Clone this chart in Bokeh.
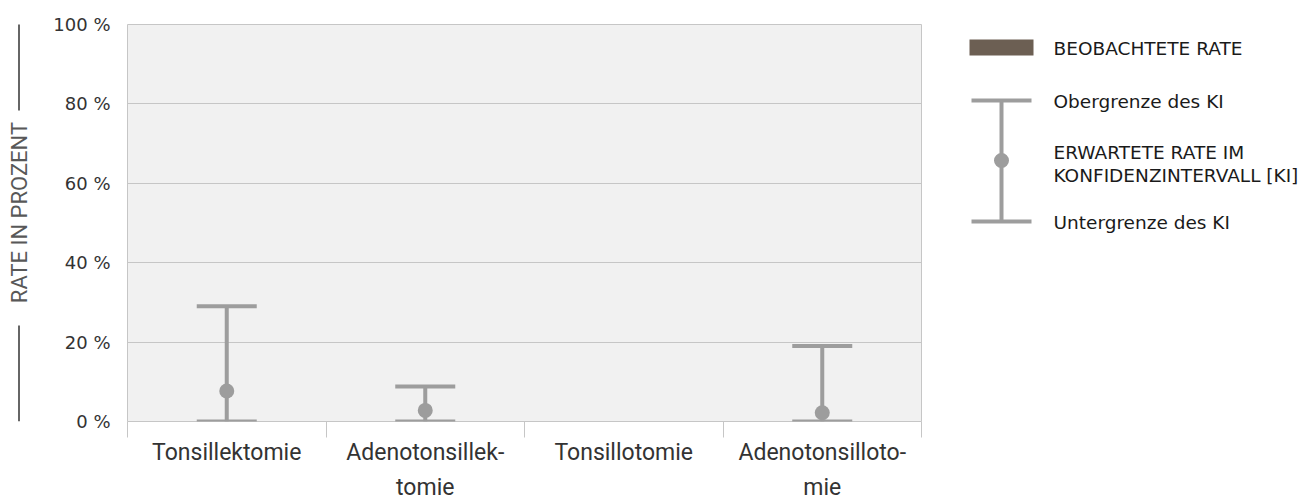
import math
from bokeh.plotting import figure
from bokeh.layouts import row
from bokeh.models import (ColumnDataSource, Range1d, FixedTicker, PrintfTickFormatter,
                          Whisker, TeeHead, Arrow, Label)
from bokeh.core.properties import value
from bokeh.embed import file_html
from bokeh.resources import INLINE

# ---------------- data ----------------
categories = ["Tonsillektomie", "Adenotonsillektomie", "Tonsillotomie", "Adenotonsillotomie"]
tick_labels = ["Tonsillektomie", "Adenotonsillek-\ntomie", "Tonsillotomie", "Adenotonsilloto-\nmie"]
observed_rate = [0.0, 0.0, 0.0, 0.0]
expected_rate = [7.7, 2.8, None, 2.2]
ci_lower = [0.0, 0.0, None, 0.0]
ci_upper = [29.0, 8.8, None, 19.0]
y_ticks = [0, 20, 40, 60, 80, 100]

legend_labels = ["BEOBACHTETE RATE", "Obergrenze des KI",
                 "ERWARTETE RATE IM", "KONFIDENZINTERVALL [KI]", "Untergrenze des KI"]
axis_title = "RATE IN PROZENT"

# ---------------- styles / layout ----------------
BG = "#f1f1f1"
GRID = "#c6c6c6"
ERR = "#9d9d9d"
BROWN = "#6c5f53"
TXT = "#333333"
H = 503
FT, FB = 24, 421          # frame top / bottom on the page (pixels)
STRIP_W, MAIN_W = 48, 892
LEG_W = 1313 - STRIP_W - MAIN_W

xs = [i + 0.5 for i in range(len(categories))]
rows = [i for i in range(len(categories)) if expected_rate[i] is not None]
src = ColumnDataSource(dict(
    x=[xs[i] for i in rows],
    exp=[expected_rate[i] for i in rows],
    lo=[ci_lower[i] for i in rows],
    up=[ci_upper[i] for i in rows],
))
bar_src = ColumnDataSource(dict(x=xs, top=observed_rate))

# ---------------- left title strip (page pixel coordinates) ----------------
pt = figure(width=STRIP_W, height=H, x_range=Range1d(0, STRIP_W), y_range=Range1d(FB, FT),
            x_axis_type=None, y_axis_type=None, toolbar_location=None,
            output_backend="svg", min_border=0, outline_line_color=None)
pt.grid.visible = False
for y0, y1 in [(14, 110), (325, 421)]:
    pt.add_layout(Arrow(x_start=18.5, y_start=y0, x_end=18.5, y_end=y1, end=None, start=None,
                        line_color="#666666", line_width=2))
pt.add_layout(Label(x=19, y=212, text=axis_title, angle=math.pi / 2,
                    text_align="center", text_baseline="middle",
                    text_font="Roboto", text_font_size="22px", text_color="#585858"))

# ---------------- main chart ----------------
p = figure(frame_width=794, frame_height=FB - FT, width=MAIN_W, height=H,
           x_range=Range1d(0, 4), y_range=Range1d(0, 100),
           toolbar_location=None, output_backend="svg",
           min_border_left=79, min_border_right=19, min_border_top=FT, min_border_bottom=H - FB)
p.background_fill_color = BG
p.border_fill_color = "white"
p.outline_line_color = GRID
p.outline_line_width = 1
p.xgrid.visible = False
p.ygrid.grid_line_color = GRID
p.ygrid.grid_line_width = 1

p.yaxis.ticker = FixedTicker(ticks=y_ticks)
p.yaxis.formatter = PrintfTickFormatter(format="%d %%")
p.yaxis.axis_line_color = None
p.yaxis.major_tick_line_color = None
p.yaxis.major_tick_out = 0
p.yaxis.major_tick_in = 0
p.yaxis.minor_tick_line_color = None
p.yaxis.minor_tick_out = 0
p.yaxis.major_label_standoff = 17
p.yaxis.major_label_text_font = "DejaVu Sans"
p.yaxis.major_label_text_font_size = "18px"
p.yaxis.major_label_text_color = TXT

p.xaxis.ticker = FixedTicker(ticks=xs, minor_ticks=list(range(len(categories) + 1)))
p.xaxis.major_label_overrides = {xs[i]: tick_labels[i] for i in range(len(categories))}
p.xaxis.axis_line_color = None
p.xaxis.major_tick_line_color = None
p.xaxis.major_tick_out = 0
p.xaxis.major_tick_in = 0
p.xaxis.minor_tick_line_color = GRID
p.xaxis.minor_tick_out = 16
p.xaxis.minor_tick_in = 0
p.xaxis.major_label_standoff = 1
p.xaxis.major_label_text_font = "Roboto"
p.xaxis.major_label_text_font_size = "23px"
p.xaxis.major_label_text_color = TXT
p.xaxis.major_label_text_line_height = 1.31

p.vbar(x="x", top="top", bottom=0, width=0.4, source=bar_src, fill_color=BROWN, line_color=None)

wh = Whisker(source=src, base="x", upper="up", lower="lo", dimension="height",
             line_color=ERR, line_width=4,
             upper_head=TeeHead(size=60, line_color=ERR, line_width=4),
             lower_head=TeeHead(size=60, line_color=ERR, line_width=4))
p.add_layout(wh)
p.scatter(x="x", y="exp", source=src, size=15, fill_color=ERR, line_color=None)

# ---------------- legend panel (page pixel coordinates) ----------------
pl = figure(width=LEG_W, height=H, x_range=Range1d(0, LEG_W), y_range=Range1d(FB, FT),
            x_axis_type=None, y_axis_type=None, toolbar_location=None,
            output_backend="svg", min_border=0, outline_line_color=None)
pl.grid.visible = False
pl.quad(left=[29], right=[93], top=[39], bottom=[55], fill_color=BROWN, line_color=None)
pl.segment(x0=[61, 31, 31], y0=[100, 100, 221], x1=[61, 91, 91], y1=[221, 100, 221],
           line_color=ERR, line_width=4)
pl.scatter(x=[61], y=[160], size=15, fill_color=ERR, line_color=None)
pl.text(x=[113] * 5, y=[47.5, 100.5, 151.5, 175, 221.5], text=legend_labels,
        text_baseline="middle", text_font=value("DejaVu Sans"), text_font_size="18.5px",
        text_color="#1a1a1a")

layout = row(pt, p, pl)
open("out.html", "w").write(file_html(layout, INLINE))
